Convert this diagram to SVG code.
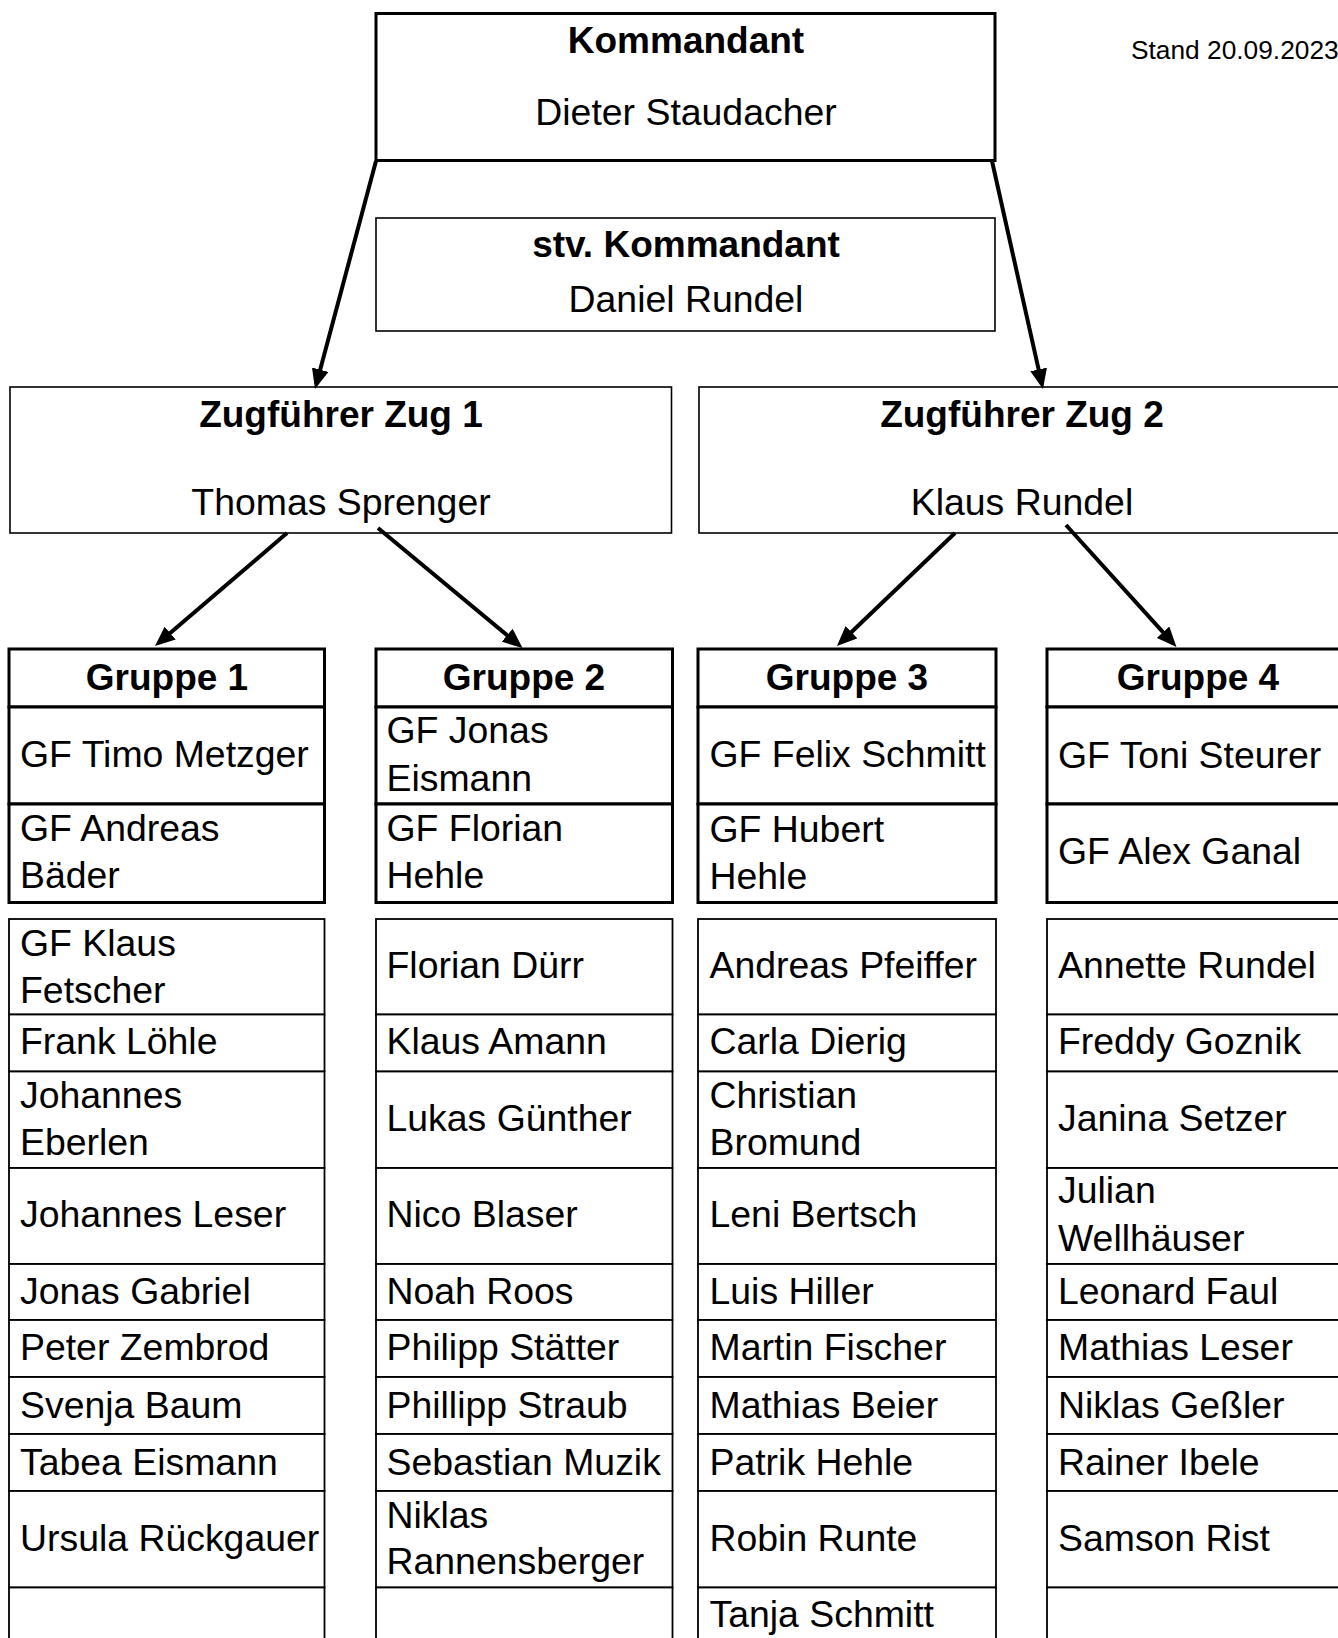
<svg xmlns="http://www.w3.org/2000/svg" width="1338" height="1638" viewBox="0 0 1338 1638">
<style>
.t{font-family:"Liberation Sans",Arial,sans-serif;font-size:37.4px;fill:#000}
.b{font-weight:bold;font-size:37px}
.c{text-anchor:middle}
.s{font-size:26.3px}
.box{fill:#fff;stroke:#000;stroke-width:1.6}
.thick{fill:#fff;stroke:#000;stroke-width:3}
.cell{fill:#fff;stroke:#000;stroke-width:1.8}
.arr{stroke:#000;stroke-width:4;fill:none;marker-end:url(#ah)}
</style>
<defs>
<marker id="ah" markerUnits="userSpaceOnUse" viewBox="0 0 20 17" markerWidth="20" markerHeight="17" refX="15" refY="8.5" orient="auto">
<path d="M0,0 L20,8.5 L0,17 z" fill="#000"/>
</marker>
</defs>
<rect width="1338" height="1638" fill="#fff"/>

<text class="t s" x="1131" y="59">Stand 20.09.2023</text>

<g id="kommandant">
<rect x="376" y="13.5" width="619" height="147" fill="#fff" stroke="#000" stroke-width="3"/>
<text class="t b c" x="686" y="53">Kommandant</text>
<text class="t c" x="686" y="125">Dieter Staudacher</text>
</g>

<g id="stv-kommandant">
<rect class="box" x="376" y="218" width="619" height="113"/>
<text class="t b c" x="686" y="257">stv. Kommandant</text>
<text class="t c" x="686" y="312">Daniel Rundel</text>
</g>

<g id="zug1">
<rect class="box" x="10" y="387" width="661.5" height="146"/>
<text class="t b c" x="341" y="427">Zugführer Zug 1</text>
<text class="t c" x="341" y="515">Thomas Sprenger</text>
</g>

<g id="zug2">
<rect class="box" x="699" y="387" width="648" height="146"/>
<text class="t b c" x="1022" y="427">Zugführer Zug 2</text>
<text class="t c" x="1022" y="515">Klaus Rundel</text>
</g>

<g id="connectors">
<line class="arr" x1="376" y1="161" x2="316.3" y2="384.2"/>
<line class="arr" x1="992" y1="161" x2="1041.9" y2="384.1"/>
<line class="arr" x1="287" y1="533" x2="158.8" y2="642.8"/>
<line class="arr" x1="378" y1="528" x2="518.7" y2="644.8"/>
<line class="arr" x1="955" y1="533" x2="840.6" y2="642.5"/>
<line class="arr" x1="1066" y1="525" x2="1173.1" y2="643.3"/>
</g>

<g id="gruppe1">
<rect class="thick" x="9" y="649" width="315.5" height="58"/>
<rect class="thick" x="9" y="707" width="315.5" height="97"/>
<rect class="thick" x="9" y="804" width="315.5" height="98.5"/>
<text class="t b c" x="167" y="690">Gruppe 1</text>
<text class="t" x="20" y="767">GF Timo Metzger</text>
<text class="t" x="20" y="841">GF Andreas</text>
<text class="t" x="20" y="888">Bäder</text>
<rect class="cell" x="9" y="919" width="315.5" height="95.5"/>
<rect class="cell" x="9" y="1014.5" width="315.5" height="57"/>
<rect class="cell" x="9" y="1071.5" width="315.5" height="96.5"/>
<rect class="cell" x="9" y="1168" width="315.5" height="96"/>
<rect class="cell" x="9" y="1264" width="315.5" height="56"/>
<rect class="cell" x="9" y="1320" width="315.5" height="57"/>
<rect class="cell" x="9" y="1377" width="315.5" height="57"/>
<rect class="cell" x="9" y="1434" width="315.5" height="57"/>
<rect class="cell" x="9" y="1491" width="315.5" height="96.5"/>
<rect class="cell" x="9" y="1587.5" width="315.5" height="80"/>
<text class="t" x="20" y="955.5">GF Klaus</text>
<text class="t" x="20" y="1002.5">Fetscher</text>
<text class="t" x="20" y="1054">Frank Löhle</text>
<text class="t" x="20" y="1107.5">Johannes</text>
<text class="t" x="20" y="1154.5">Eberlen</text>
<text class="t" x="20" y="1227">Johannes Leser</text>
<text class="t" x="20" y="1304">Jonas Gabriel</text>
<text class="t" x="20" y="1360">Peter Zembrod</text>
<text class="t" x="20" y="1417.5">Svenja Baum</text>
<text class="t" x="20" y="1475">Tabea Eismann</text>
<text class="t" x="20" y="1551">Ursula Rückgauer</text>
</g>

<g id="gruppe2">
<rect class="thick" x="376" y="649" width="296.5" height="58"/>
<rect class="thick" x="376" y="707" width="296.5" height="97"/>
<rect class="thick" x="376" y="804" width="296.5" height="98.5"/>
<text class="t b c" x="524" y="690">Gruppe 2</text>
<text class="t" x="386.5" y="743">GF Jonas</text>
<text class="t" x="386.5" y="790.5">Eismann</text>
<text class="t" x="386.5" y="841">GF Florian</text>
<text class="t" x="386.5" y="888">Hehle</text>
<rect class="cell" x="376" y="919" width="296.5" height="95.5"/>
<rect class="cell" x="376" y="1014.5" width="296.5" height="57"/>
<rect class="cell" x="376" y="1071.5" width="296.5" height="96.5"/>
<rect class="cell" x="376" y="1168" width="296.5" height="96"/>
<rect class="cell" x="376" y="1264" width="296.5" height="56"/>
<rect class="cell" x="376" y="1320" width="296.5" height="57"/>
<rect class="cell" x="376" y="1377" width="296.5" height="57"/>
<rect class="cell" x="376" y="1434" width="296.5" height="57"/>
<rect class="cell" x="376" y="1491" width="296.5" height="96.5"/>
<rect class="cell" x="376" y="1587.5" width="296.5" height="80"/>
<text class="t" x="386.5" y="978">Florian Dürr</text>
<text class="t" x="386.5" y="1054">Klaus Amann</text>
<text class="t" x="386.5" y="1131">Lukas Günther</text>
<text class="t" x="386.5" y="1227">Nico Blaser</text>
<text class="t" x="386.5" y="1304">Noah Roos</text>
<text class="t" x="386.5" y="1360">Philipp Stätter</text>
<text class="t" x="386.5" y="1417.5">Phillipp Straub</text>
<text class="t" x="386.5" y="1475">Sebastian Muzik</text>
<text class="t" x="386.5" y="1527.5">Niklas</text>
<text class="t" x="386.5" y="1574">Rannensberger</text>
</g>

<g id="gruppe3">
<rect class="thick" x="698" y="649" width="298" height="58"/>
<rect class="thick" x="698" y="707" width="298" height="97"/>
<rect class="thick" x="698" y="804" width="298" height="98.5"/>
<text class="t b c" x="847" y="690">Gruppe 3</text>
<text class="t" x="709.5" y="767">GF Felix Schmitt</text>
<text class="t" x="709.5" y="841.5">GF Hubert</text>
<text class="t" x="709.5" y="889">Hehle</text>
<rect class="cell" x="698" y="919" width="298" height="95.5"/>
<rect class="cell" x="698" y="1014.5" width="298" height="57"/>
<rect class="cell" x="698" y="1071.5" width="298" height="96.5"/>
<rect class="cell" x="698" y="1168" width="298" height="96"/>
<rect class="cell" x="698" y="1264" width="298" height="56"/>
<rect class="cell" x="698" y="1320" width="298" height="57"/>
<rect class="cell" x="698" y="1377" width="298" height="57"/>
<rect class="cell" x="698" y="1434" width="298" height="57"/>
<rect class="cell" x="698" y="1491" width="298" height="96.5"/>
<rect class="cell" x="698" y="1587.5" width="298" height="80"/>
<text class="t" x="709.5" y="978">Andreas Pfeiffer</text>
<text class="t" x="709.5" y="1054">Carla Dierig</text>
<text class="t" x="709.5" y="1107.5">Christian</text>
<text class="t" x="709.5" y="1154.5">Bromund</text>
<text class="t" x="709.5" y="1227">Leni Bertsch</text>
<text class="t" x="709.5" y="1304">Luis Hiller</text>
<text class="t" x="709.5" y="1360">Martin Fischer</text>
<text class="t" x="709.5" y="1417.5">Mathias Beier</text>
<text class="t" x="709.5" y="1475">Patrik Hehle</text>
<text class="t" x="709.5" y="1551">Robin Runte</text>
<text class="t" x="709.5" y="1627">Tanja Schmitt</text>
</g>

<g id="gruppe4">
<rect class="thick" x="1047" y="649" width="302" height="58"/>
<rect class="thick" x="1047" y="707" width="302" height="97"/>
<rect class="thick" x="1047" y="804" width="302" height="98.5"/>
<text class="t b c" x="1198" y="690">Gruppe 4</text>
<text class="t" x="1058" y="767.5">GF Toni Steurer</text>
<text class="t" x="1058" y="864">GF Alex Ganal</text>
<rect class="cell" x="1047" y="919" width="302" height="95.5"/>
<rect class="cell" x="1047" y="1014.5" width="302" height="57"/>
<rect class="cell" x="1047" y="1071.5" width="302" height="96.5"/>
<rect class="cell" x="1047" y="1168" width="302" height="96"/>
<rect class="cell" x="1047" y="1264" width="302" height="56"/>
<rect class="cell" x="1047" y="1320" width="302" height="57"/>
<rect class="cell" x="1047" y="1377" width="302" height="57"/>
<rect class="cell" x="1047" y="1434" width="302" height="57"/>
<rect class="cell" x="1047" y="1491" width="302" height="96.5"/>
<rect class="cell" x="1047" y="1587.5" width="302" height="80"/>
<text class="t" x="1058" y="978">Annette Rundel</text>
<text class="t" x="1058" y="1054">Freddy Goznik</text>
<text class="t" x="1058" y="1131">Janina Setzer</text>
<text class="t" x="1058" y="1202.5">Julian</text>
<text class="t" x="1058" y="1251">Wellhäuser</text>
<text class="t" x="1058" y="1304">Leonard Faul</text>
<text class="t" x="1058" y="1360">Mathias Leser</text>
<text class="t" x="1058" y="1417.5">Niklas Geßler</text>
<text class="t" x="1058" y="1475">Rainer Ibele</text>
<text class="t" x="1058" y="1551">Samson Rist</text>
</g>
</svg>
